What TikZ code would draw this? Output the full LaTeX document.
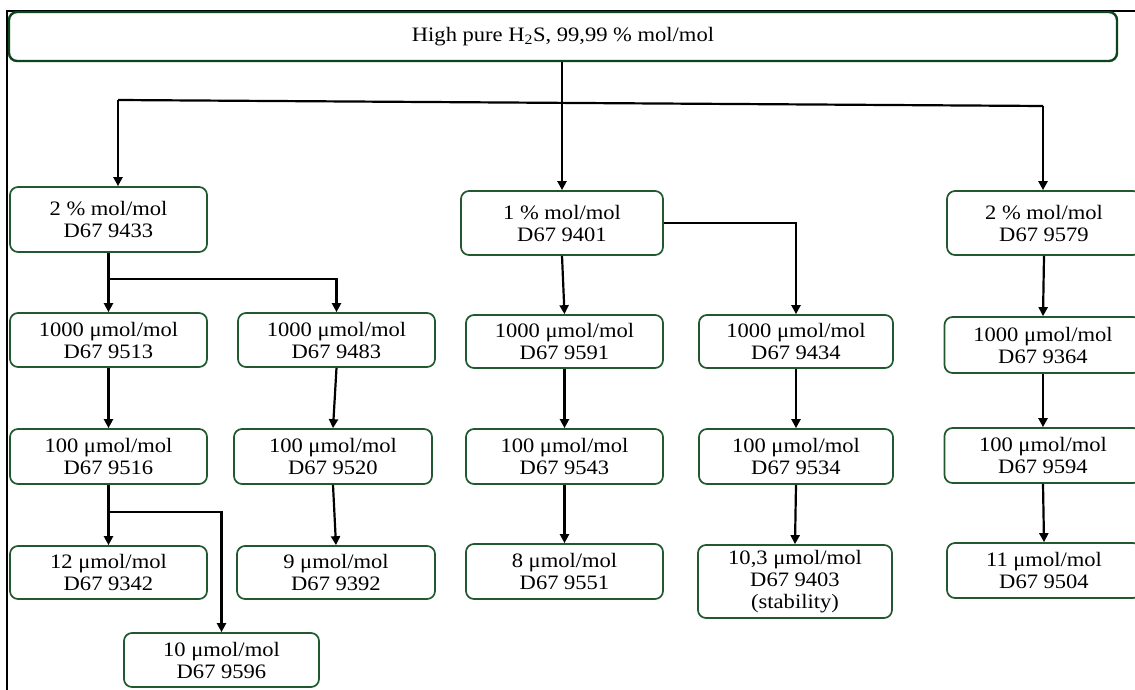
\documentclass[tikz,border=0pt]{standalone}
\usepackage{fontspec}
\setmainfont{Liberation Serif}[FakeStretch=1.1]
\usetikzlibrary{arrows.meta}
\definecolor{boxgreen}{RGB}{34,88,48}
\definecolor{topgreen}{RGB}{12,68,30}

\begin{document}
\begin{tikzpicture}[x=1pt, y=-1pt,
    sample/.style={draw=boxgreen, line width=1.7pt, rounded corners=8pt, fill=white,
        align=center, inner sep=0pt, minimum width=197pt, minimum height=54pt,
        font=\fontsize{20.5}{22}\selectfont},
    link/.style={line width=2.2pt, -{Triangle[length=9pt,width=9pt]}},
    plain/.style={line width=2.2pt}]

    % page size
    \useasboundingbox (0,0) rectangle (1135,690);
    \clip (0,0) rectangle (1135,690);

    % frame lines
    \draw[line width=2.2pt] (7.3,690) -- (7.3,10.7) -- (1135,10.7);

    % source gas
    \node[sample, draw=topgreen, line width=2.4pt, minimum width=1108pt, minimum height=49pt]
        (top) at (563,36.5) {High pure H\textsubscript{2}S, 99,99 \% mol/mol};

    % first dilution
    \node[sample, minimum height=65pt] (A1) at (108.5,219.5) {2 \% mol/mol\\D67 9433};
    \node[sample, minimum width=202pt, minimum height=64pt] (C1) at (562,223) {1 \% mol/mol\\D67 9401};
    \node[sample, minimum width=194pt, minimum height=64pt] (E1) at (1044,223) {2 \% mol/mol\\D67 9579};

    % 1000 umol/mol
    \node[sample] (A2) at (108.5,340) {1000 μmol/mol\\D67 9513};
    \node[sample] (B2) at (336.5,340) {1000 μmol/mol\\D67 9483};
    \node[sample, minimum height=53pt] (C2) at (564.5,341.5) {1000 μmol/mol\\D67 9591};
    \node[sample, minimum width=194pt, minimum height=53pt] (D2) at (796,341.5) {1000 μmol/mol\\D67 9434};
    \node[sample, minimum width=197pt, minimum height=56pt] (E2) at (1043,345) {1000 μmol/mol\\D67 9364};

    % 100 umol/mol
    \node[sample, minimum height=55pt] (A3) at (108.5,456.5) {100 μmol/mol\\D67 9516};
    \node[sample, minimum width=198pt, minimum height=55pt] (B3) at (333,456.5) {100 μmol/mol\\D67 9520};
    \node[sample, minimum height=55pt] (C3) at (564.5,456.5) {100 μmol/mol\\D67 9543};
    \node[sample, minimum width=194pt, minimum height=55pt] (D3) at (796,456.5) {100 μmol/mol\\D67 9534};
    \node[sample, minimum width=197pt, minimum height=55pt] (E3) at (1043,455.5) {100 μmol/mol\\D67 9594};

    % final mixtures
    \node[sample, minimum height=53pt] (A4) at (108.5,572.5) {12 μmol/mol\\D67 9342};
    \node[sample, minimum width=198pt, minimum height=53pt] (B4) at (336,572.5) {9 μmol/mol\\D67 9392};
    \node[sample, minimum height=55pt] (C4) at (564.5,571.5) {8 μmol/mol\\D67 9551};
    \node[sample, minimum width=194pt, minimum height=73pt] (D4) at (795,581.5) {10,3 μmol/mol\\D67 9403\\(stability)};
    \node[sample, minimum width=194pt, minimum height=55pt] (E4) at (1044,570.5) {11 μmol/mol\\D67 9504};
    \node[sample, minimum width=195pt] (A5) at (221.5,660) {10 μmol/mol\\D67 9596};

    % branch points
    \coordinate (hl) at (118,100);
    \coordinate (hr) at (1043,106);
    \coordinate (a1b) at (108.5,279);
    \coordinate (a3b) at (108.5,512);

    % connectors from the source
    \draw[link] (top.south -| C1.north) -- (C1.north);
    \draw[plain] (hl) -- (hr);
    \draw[link] (hl) -- (hl |- A1.north);
    \draw[link] (hr) -- (hr |- E1.north);

    % left branch
    \draw[link] (A1) -- (A2);
    \draw[link] (a1b) -| (B2.north);
    \draw[link] (A2) -- (A3);
    \draw[link] (A3) -- (A4);
    \draw[link] (a3b) -| (A5.north);
    \draw[link] (B2.south) -- (B3.north);
    \draw[link] (B3.south) -- (B4.north);

    % middle branch
    \draw[link] (C1.south) -- (C2.north);
    \draw[link] (C1.east) -| (D2.north);
    \draw[link] (C2) -- (C3);
    \draw[link] (C3) -- (C4);
    \draw[link] (D2) -- (D3);
    \draw[link] (D3.south) -- (D4.north);

    % right branch
    \draw[link] (E1.south) -- (E2.north);
    \draw[link] (E2.south) -- (E3.north);
    \draw[link] (E3.south) -- (E4.north);

\end{tikzpicture}
\end{document}
